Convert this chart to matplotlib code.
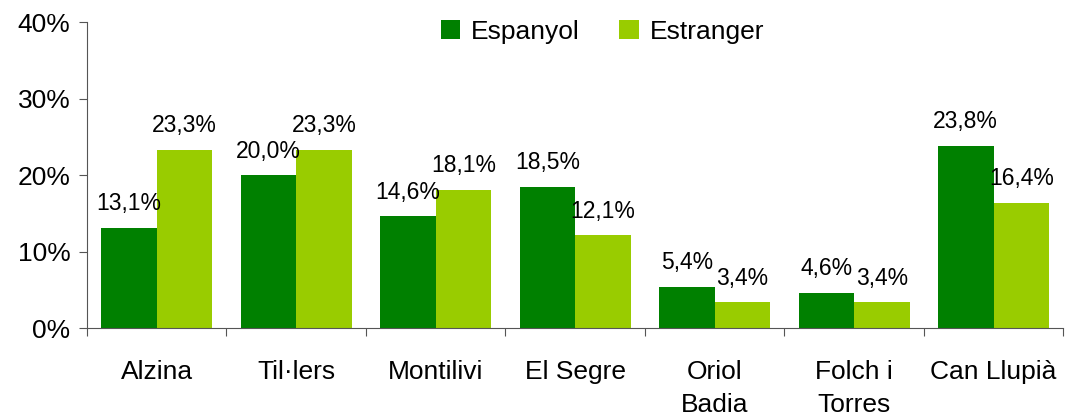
import numpy as np
import matplotlib
matplotlib.use("Agg")
import matplotlib.pyplot as plt
from matplotlib.ticker import FuncFormatter

plt.rcParams["font.family"] = ["Liberation Sans", "DejaVu Sans"]

categories = ["Alzina", "Til·lers", "Montilivi", "El Segre", "Oriol\nBadia", "Folch i\nTorres", "Can Llupià"]
espanyol = [13.1, 20.0, 14.6, 18.5, 5.4, 4.6, 23.8]
estranger = [23.3, 23.3, 18.1, 12.1, 3.4, 3.4, 16.4]
series_names = ["Espanyol", "Estranger"]
colors = ["#008000", "#99CC00"]

fig = plt.figure(figsize=(10.67, 4.16), dpi=100)
ax = fig.add_axes([0.0815, 0.2115, 0.915, 0.7355])

x = np.arange(len(categories))
w = 0.398
for vals, off, col, name in [(espanyol, -w / 2, colors[0], series_names[0]),
                             (estranger, w / 2, colors[1], series_names[1])]:
    ax.bar(x + off, vals, width=w, color=col, label=name)
    for xi, v in zip(x + off, vals):
        ax.annotate(f"{v:.1f}%".replace(".", ","), (xi, v), xytext=(0, 9),
                    textcoords="offset points", ha="center", va="bottom", fontsize=16.5)

ax.set_xlim(-0.5, len(categories) - 0.5)
ax.set_ylim(0, 40)
ax.set_yticks([0, 10, 20, 30, 40])
ax.yaxis.set_major_formatter(FuncFormatter(lambda v, p: f"{v:.0f}%"))

ax.set_xticks(np.arange(len(categories) + 1) - 0.5)
ax.set_xticklabels([])
ax.set_xticks(x, minor=True)
ax.set_xticklabels(categories, minor=True, fontsize=19, linespacing=1.5)
ax.tick_params(axis="x", which="minor", length=0, pad=23)
ax.tick_params(axis="x", which="major", length=6, direction="out", color="#555555")
ax.tick_params(axis="y", length=6, direction="out", labelsize=19, pad=6, color="#555555")

for s in ["top", "right"]:
    ax.spines[s].set_visible(False)
for s in ["left", "bottom"]:
    ax.spines[s].set_color("#555555")

ax.legend(loc="center", bbox_to_anchor=(0.528, 0.968), ncol=2, frameon=False,
          fontsize=19, handlelength=0.75, handleheight=0.75, handletextpad=0.4,
          columnspacing=1.5)

fig.savefig("out.png", dpi=100)
